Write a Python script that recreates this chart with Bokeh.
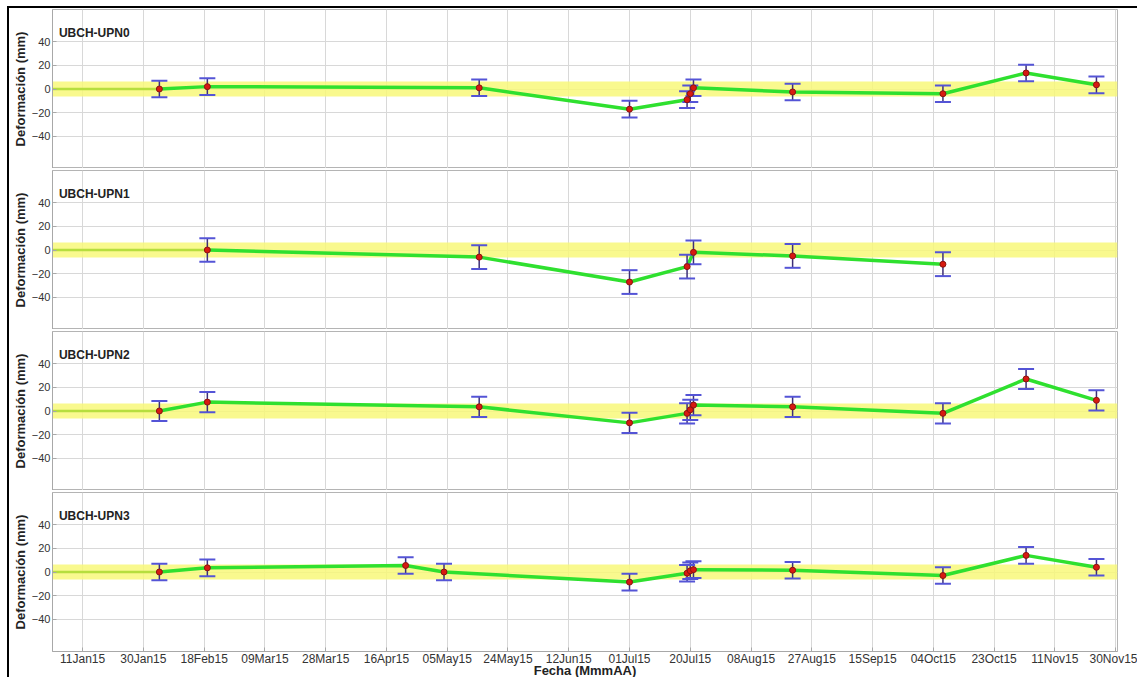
import pandas as pd
from bokeh.plotting import figure
from bokeh.layouts import column
from bokeh.models import (ColumnDataSource, FixedTicker, DatetimeTickFormatter,
                          Range1d, Label)
from bokeh.embed import file_html
from bokeh.resources import INLINE

FUENTE = "Liberation Sans"

# Puntos de control y sus lecturas de deformación (mm)
puntos = ["UBCH-UPN0", "UBCH-UPN1", "UBCH-UPN2", "UBCH-UPN3"]

fechas_upn0 = ["2015-02-04", "2015-02-19", "2015-05-15", "2015-07-01", "2015-07-19",
               "2015-07-20", "2015-07-21", "2015-08-21", "2015-10-07", "2015-11-02",
               "2015-11-24"]
def_upn0 = [0, 2, 1, -17, -9, -4, 1, -2.5, -4, 13.5, 3.5]
err_upn0 = 7

fechas_upn1 = ["2015-02-19", "2015-05-15", "2015-07-01", "2015-07-19", "2015-07-21",
               "2015-08-21", "2015-10-07"]
def_upn1 = [0, -6, -27, -14, -2, -5, -12]
err_upn1 = 10

fechas_upn2 = ["2015-02-04", "2015-02-19", "2015-05-15", "2015-07-01", "2015-07-19",
               "2015-07-20", "2015-07-21", "2015-08-21", "2015-10-07", "2015-11-02",
               "2015-11-24"]
def_upn2 = [0, 7.5, 3.5, -10, -2, 1, 5, 3.5, -2, 27, 9]
err_upn2 = 8.5

fechas_upn3 = ["2015-02-04", "2015-02-19", "2015-04-22", "2015-05-04", "2015-07-01",
               "2015-07-19", "2015-07-20", "2015-07-21", "2015-08-21", "2015-10-07",
               "2015-11-02", "2015-11-24"]
def_upn3 = [0, 3.5, 5.5, 0, -8.5, -1, 1, 2, 1.5, -3, 14, 4]
err_upn3 = 7

series = [
    (fechas_upn0, def_upn0, err_upn0),
    (fechas_upn1, def_upn1, err_upn1),
    (fechas_upn2, def_upn2, err_upn2),
    (fechas_upn3, def_upn3, err_upn3),
]

# Fecha de referencia (lectura cero) y fin del periodo
fecha_inicio = "2015-01-01 14:00"
fecha_fin = "2015-11-30 14:00"
ticks_fecha = pd.date_range("2015-01-11", "2015-11-30", freq="19D")
ticks_def = [-40, -20, 0, 20, 40]
lim_def = 67
tolerancia = 6.3  # banda admisible ± mm

t0 = pd.Timestamp(fecha_inicio)
t1 = pd.Timestamp(fecha_fin)
x_range = Range1d(t0, t1)
tick_ms = [t.value / 1e6 for t in ticks_fecha]

VERDE = "#2fe02f"
AMARILLO = "#f8f87a"
CAP = "#5454d6"
STEM = "#3d2f78"
ROJO = "#d81a10"

figs = []
for i, (nombre, (fechas, vals, err)) in enumerate(zip(puntos, series)):
    ultimo = i == len(puntos) - 1
    p = figure(frame_width=1065, frame_height=159, x_range=x_range,
               y_range=Range1d(-lim_def, lim_def), x_axis_type="datetime",
               x_axis_location="below" if ultimo else None,
               output_backend="svg", toolbar_location=None,
               min_border_left=43, min_border_right=20,
               min_border_top=1 if i == 0 else 2,
               min_border_bottom=24 if ultimo else 0)
    p.background_fill_color = "white"
    p.border_fill_color = "white"
    p.outline_line_color = "#b4b4b4"
    p.outline_line_width = 1

    p.xgrid.ticker = FixedTicker(ticks=tick_ms)
    p.xgrid.grid_line_color = "#d8d8d8"
    p.ygrid.grid_line_color = "#d8d8d8"

    yax = p.yaxis[0]
    yax.ticker = FixedTicker(ticks=ticks_def)
    yax.axis_label = "Deformación (mm)"
    yax.axis_label_text_font = FUENTE
    yax.axis_label_text_font_style = "bold"
    yax.axis_label_text_font_size = "13px"
    yax.axis_label_text_color = "#222222"
    yax.axis_label_standoff = 1
    yax.major_label_text_font = FUENTE
    yax.major_label_text_font_size = "11px"
    yax.major_label_text_color = "#333333"
    yax.major_label_standoff = 2
    yax.major_tick_in = 4
    yax.major_tick_out = 0
    yax.minor_tick_line_color = None
    yax.axis_line_color = "#a8a8a8"
    yax.major_tick_line_color = "#a8a8a8"

    if ultimo:
        xax = p.xaxis[0]
        xax.ticker = FixedTicker(ticks=tick_ms)
        xax.formatter = DatetimeTickFormatter(days="%d%b%y", months="%d%b%y",
                                              hours="%d%b%y", years="%d%b%y")
        xax.axis_label = "Fecha (MmmAA)"
        xax.axis_label_text_font = FUENTE
        xax.axis_label_text_font_style = "bold"
        xax.axis_label_text_font_size = "13px"
        xax.axis_label_text_color = "#222222"
        xax.axis_label_standoff = -6
        xax.major_label_text_font = FUENTE
        xax.major_label_text_font_size = "12px"
        xax.major_label_text_color = "#333333"
        xax.major_label_standoff = 0
        xax.major_tick_in = 4
        xax.major_tick_out = 0
        xax.minor_tick_line_color = None
        xax.axis_line_color = "#a8a8a8"
        xax.major_tick_line_color = "#a8a8a8"

    fx = pd.to_datetime(fechas)
    src = ColumnDataSource(dict(
        fecha=fx,
        d=vals,
        sup=[v + err for v in vals],
        inf=[v - err for v in vals],
    ))

    # banda de tolerancia
    p.varea(x=[t0, t1], y1=[-tolerancia, -tolerancia], y2=[tolerancia, tolerancia],
            fill_color=AMARILLO, fill_alpha=0.85)
    # tramo desde la lectura de referencia hasta la primera medición
    p.line(x=[t0, fx[0]], y=[0, vals[0]], line_color="#b6de3e", line_width=2.5)
    # serie de deformación
    p.line("fecha", "d", source=src, line_color=VERDE, line_width=3.5)
    # barras de error
    p.segment(x0="fecha", y0="inf", x1="fecha", y1="sup", source=src,
              line_color=STEM, line_width=1.5)
    p.scatter("fecha", "sup", source=src, marker="dash", size=16,
              line_color=CAP, line_width=2)
    p.scatter("fecha", "inf", source=src, marker="dash", size=16,
              line_color=CAP, line_width=2)
    p.scatter("fecha", "d", source=src, size=6, fill_color=ROJO,
              line_color="#8a1410", line_width=1)

    p.add_layout(Label(x=t0 + pd.Timedelta(days=2), y=47, text=nombre,
                       text_font=FUENTE, text_font_style="bold",
                       text_font_size="12px", text_color="#222222",
                       text_baseline="middle", text_align="left"))
    figs.append(p)

layout = column(*figs, spacing=0, margin=(6, 0, 0, 7),
                styles={"border-top": "2px solid black", "border-left": "2px solid black"})

open("out.html", "w").write(file_html(layout, INLINE))
